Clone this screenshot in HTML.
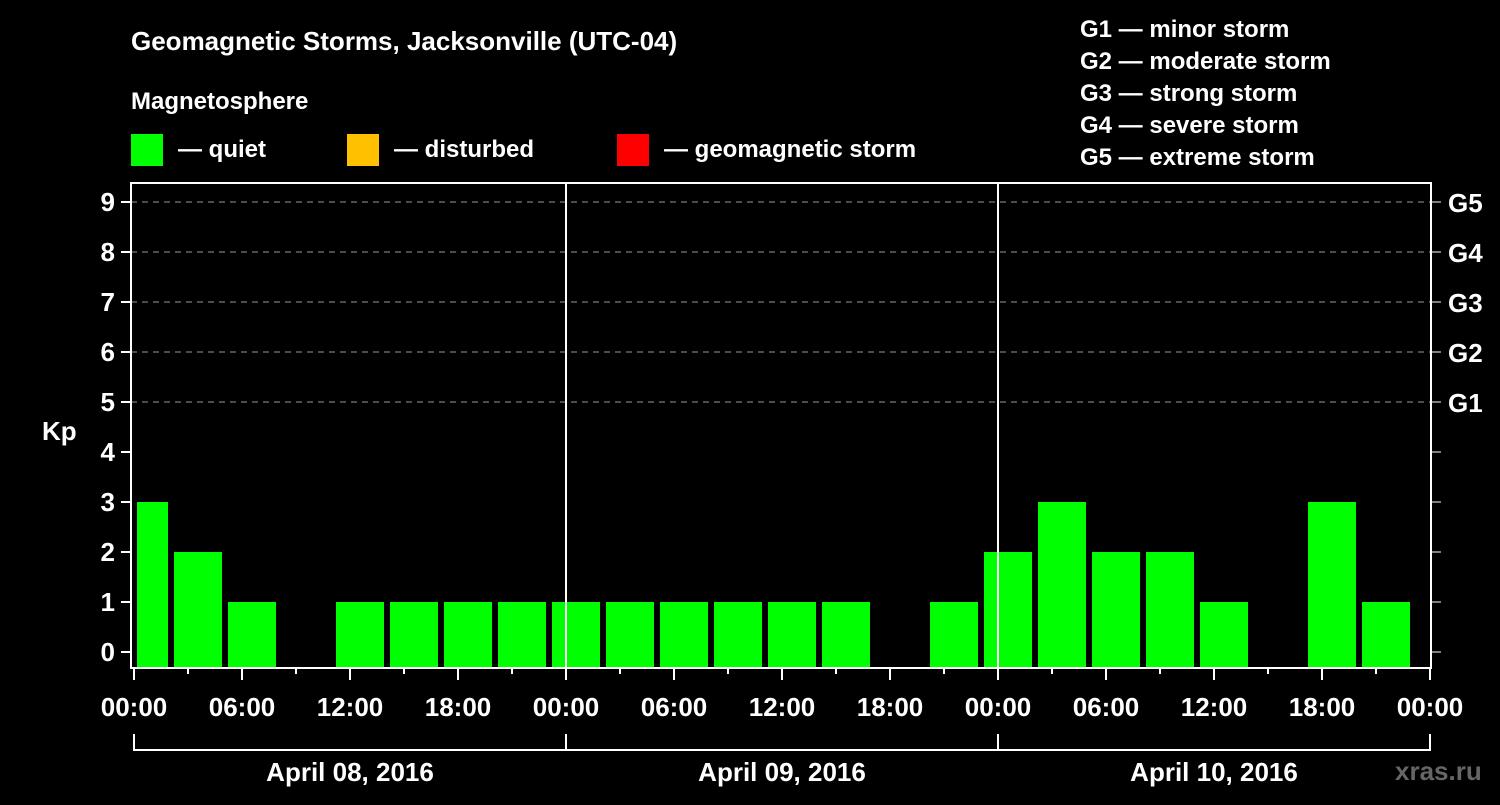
<!DOCTYPE html>
<html><head><meta charset="utf-8"><style>
body{margin:0;background:#000;width:1500px;height:800px;overflow:hidden}
svg text{font-family:"Liberation Sans",Arial,sans-serif;font-weight:bold;fill:#fff}
</style></head><body>
<svg id="c" width="1500" height="800" xmlns="http://www.w3.org/2000/svg">
<text x="131" y="50" font-size="26">Geomagnetic Storms, Jacksonville (UTC-04)</text>
<text x="131" y="109" font-size="24">Magnetosphere</text>
<rect x="131" y="134" width="32" height="32" fill="#00ff00"/>
<text x="178" y="157" font-size="24">— quiet</text>
<rect x="347" y="134" width="32" height="32" fill="#ffc000"/>
<text x="394" y="157" font-size="24">— disturbed</text>
<rect x="617" y="134" width="32" height="32" fill="#ff0000"/>
<text x="664" y="157" font-size="24">— geomagnetic storm</text>
<g font-size="24">
<text x="1080" y="37">G1 — minor storm</text>
<text x="1080" y="69">G2 — moderate storm</text>
<text x="1080" y="101">G3 — strong storm</text>
<text x="1080" y="133">G4 — severe storm</text>
<text x="1080" y="165">G5 — extreme storm</text>
</g>
<text x="42" y="440" font-size="26">Kp</text>
<text x="1395" y="780" font-size="26" fill="#666" style="fill:#666">xras.ru</text>
<g id="plot"></g>
</svg>
<script>
const kpValues=[3,2,1,0,1,1,1,1, 1,1,1,1,1,1,0,1, 2,3,2,2,1,0,3,1];
const dayLabels=["April 08, 2016","April 09, 2016","April 10, 2016"];
const timeLabels=["00:00","06:00","12:00","18:00"];
const gLabels=["G1","G2","G3","G4","G5"];
const NS="http://www.w3.org/2000/svg";
const g=document.getElementById('plot');
const X0=134,PXH=18,L=131,R=1431,T=183,B=668;
const xh=h=>X0+h*PXH;
const yk=k=>652-k*50;
function el(t,a,txt){const e=document.createElementNS(NS,t);for(const k in a)e.setAttribute(k,a[k]);if(txt!==undefined)e.textContent=txt;g.appendChild(e);return e;}
// grid
for(let k=5;k<=9;k++){const e=el('line',{x1:L,x2:R,y1:yk(k),y2:yk(k),stroke:'#999','stroke-dasharray':'6,5','stroke-width':1});

}
// bars
kpValues.forEach((v,i)=>{if(v<=0)return;let x1=xh(3*i)-14,x2=x1+48;x1=Math.max(x1,L+6);
const e=el('rect',{x:x1,y:yk(v),width:x2-x1,height:B-yk(v),fill:'#00ff00'});

});
// day separators
for(let d=1;d<3;d++){const e=el('line',{x1:xh(24*d),x2:xh(24*d),y1:T,y2:B,stroke:'#fff','stroke-width':2});

}
// frame
const fr=el('rect',{x:L,y:T,width:R-L,height:B-T,fill:'none',stroke:'#fff','stroke-width':2});


// y ticks
for(let k=0;k<=9;k++){el('line',{x1:L-10,x2:L,y1:yk(k),y2:yk(k),stroke:'#fff','stroke-width':2});
el('line',{x1:R,x2:R+10,y1:yk(k),y2:yk(k),stroke:'#fff','stroke-width':1});
const t=el('text',{x:115,y:yk(k)+9,'font-size':26,'text-anchor':'end'},String(k));

}
gLabels.forEach((s,i)=>{const t=el('text',{x:1448,y:yk(5+i)+10,'font-size':26},s);

});
// x ticks
for(let h=0;h<=72;h+=3){const major=h%6===0;el('line',{x1:xh(h),x2:xh(h),y1:B,y2:B+(major?12:6),stroke:'#fff','stroke-width':2});}
for(let h=0;h<=72;h+=6){const t=el('text',{x:xh(h),y:716,'font-size':26,'text-anchor':'middle'},timeLabels[(h/6)%4]);

}
// bracket
el('path',{d:`M${xh(0)} 734V750H${xh(72)}V734`,fill:'none',stroke:'#fff','stroke-width':2});
for(let d=1;d<3;d++)el('line',{x1:xh(24*d),x2:xh(24*d),y1:734,y2:750,stroke:'#fff','stroke-width':2});
dayLabels.forEach((s,d)=>{const t=el('text',{x:xh(24*d+12),y:781,'font-size':26,'text-anchor':'middle'},s);

});
</script>
</body></html>
